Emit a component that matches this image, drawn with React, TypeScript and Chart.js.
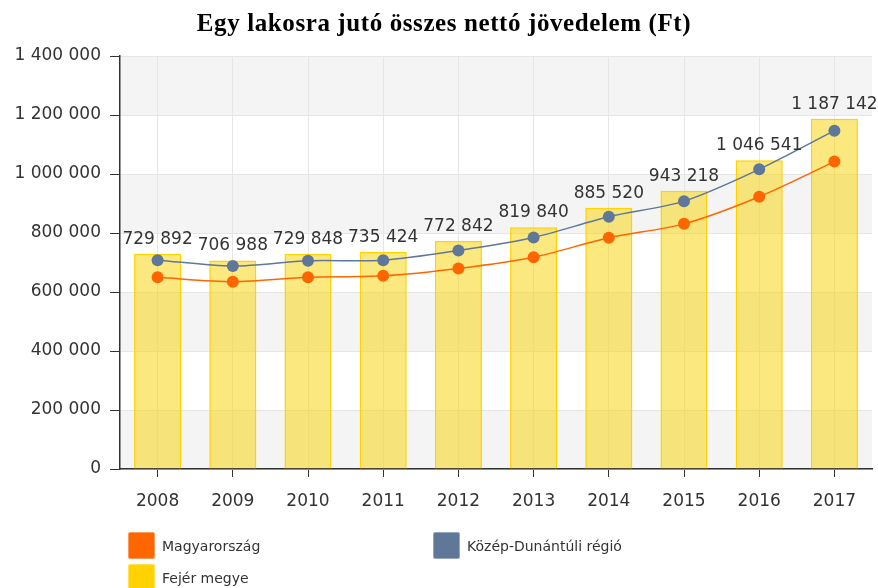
import React, { useEffect, useRef } from "react";
import { Chart, registerables } from "chart.js";

Chart.register(...registerables);

const titleText = "Egy lakosra jutó összes nettó jövedelem (Ft)";
const years = ["2008", "2009", "2010", "2011", "2012", "2013", "2014", "2015", "2016", "2017"];
const fejerValues = [729892, 706988, 729848, 735424, 772842, 819840, 885520, 943218, 1046541, 1187142];
const regioValues = [708000, 688000, 706000, 708000, 741000, 785000, 855000, 908000, 1016000, 1147000];
const hungaryValues = [650000, 635000, 650000, 655000, 680000, 718000, 784000, 831000, 923000, 1042000];
const seriesNames = ["Magyarország", "Közép-Dunántúli régió", "Fejér megye"];
const seriesColors = ["#FF6600", "#5F7799", "#FFD200"];
const yMin = 0;
const yMax = 1400000;
const yStep = 200000;

const fmt = (v: number) => String(Math.round(v)).replace(/\B(?=(\d{3})+(?!\d))/g, " ");

const FONT = '"DejaVu Sans", Verdana, sans-serif';

const bandsPlugin = {
  id: "bands",
  beforeDraw(chart: any) {
    const { ctx, chartArea, scales } = chart;
    const y = scales.y;
    ctx.save();
    ctx.fillStyle = "#f4f4f4";
    const ticks = y.ticks;
    for (let i = 0; i < ticks.length - 1; i += 2) {
      const y0 = y.getPixelForValue(ticks[i].value);
      const y1 = y.getPixelForValue(ticks[i + 1].value);
      ctx.fillRect(chartArea.left, y1, chartArea.right - chartArea.left, y0 - y1);
    }
    ctx.restore();
  },
};

const titlePlugin = {
  id: "customTitle",
  afterDraw(chart: any) {
    const { ctx } = chart;
    ctx.save();
    ctx.font = 'bold 25px "Liberation Serif", "Times New Roman", serif';
    (ctx as any).letterSpacing = "0.6px";
    ctx.fillStyle = "#000";
    ctx.textAlign = "center";
    ctx.textBaseline = "alphabetic";
    ctx.fillText(titleText, 444, 31);
    ctx.restore();
  },
};

const barLabelPlugin = {
  id: "barLabels",
  afterDatasetsDraw(chart: any) {
    const { ctx } = chart;
    chart.data.datasets.forEach((ds: any, i: number) => {
      if (ds.type !== "bar") return;
      const meta = chart.getDatasetMeta(i);
      ctx.save();
      ctx.font = "17px " + FONT;
      ctx.fillStyle = "#333";
      ctx.textAlign = "center";
      ctx.textBaseline = "alphabetic";
      meta.data.forEach((el: any, j: number) => {
        ctx.fillText(fmt(ds.data[j]), el.x, el.y - 10);
      });
      ctx.restore();
    });
  },
};

export default function App() {
  const canvasRef = useRef<HTMLCanvasElement | null>(null);

  useEffect(() => {
    document.body.style.margin = "0";
    const canvas = canvasRef.current;
    if (!canvas) return;
    const chart = new Chart(canvas, {
      data: {
        labels: years,
        datasets: [
          {
            type: "line",
            label: seriesNames[0],
            data: hungaryValues,
            borderColor: seriesColors[0],
            backgroundColor: seriesColors[0],
            borderWidth: 1.5,
            pointRadius: 6,
            pointBorderWidth: 0,
            tension: 0.3,
            order: 1,
          },
          {
            type: "line",
            label: seriesNames[1],
            data: regioValues,
            borderColor: seriesColors[1],
            backgroundColor: seriesColors[1],
            borderWidth: 1.5,
            pointRadius: 6,
            pointBorderWidth: 0,
            tension: 0.3,
            order: 0,
          },
          {
            type: "bar",
            label: seriesNames[2],
            data: fejerValues,
            backgroundColor: "rgba(248, 210, 0, 0.5)",
            borderColor: "#FFD200",
            borderWidth: 1.5,
            barPercentage: 1,
            categoryPercentage: 0.626,
            order: 2,
          },
        ],
      } as any,
      options: {
        responsive: false,
        animation: false,
        events: [],
        layout: { padding: { left: 0, right: 6, top: 56, bottom: 0 } },
        plugins: {
          legend: { display: false },
          title: { display: false },
          tooltip: { enabled: false },
        },
        scales: {
          x: {
            offset: true,
            grid: {
              offset: false,
              color: "#e6e6e6",
              tickColor: "#333",
              tickLength: 8,
              drawOnChartArea: true,
            },
            border: { color: "#333", width: 1.5 },
            ticks: {
              color: "#333",
              font: { family: FONT, size: 17 },
              padding: 14,
            },
            afterFit(scale: any) {
              scale.height = 119;
            },
          },
          y: {
            min: yMin,
            max: yMax,
            grid: {
              color: "#e6e6e6",
              tickColor: "#333",
              tickLength: 10,
            },
            border: { color: "#333", width: 1.5 },
            ticks: {
              stepSize: yStep,
              color: "#333",
              font: { family: FONT, size: 17 },
              padding: 9,
              callback: (v: any) => fmt(Number(v)),
            },
            afterFit(scale: any) {
              scale.width = 120;
            },
          },
        },
      },
      plugins: [bandsPlugin, titlePlugin, barLabelPlugin],
    });
    return () => chart.destroy();
  }, []);

  const legendItems = [0, 1, 2];
  const legendPos = [
    { left: 128, top: 532 },
    { left: 433, top: 532 },
    { left: 128, top: 564 },
  ];

  return (
    <div style={{ position: "absolute", left: 0, top: 0, width: 878, height: 588 }}>
      <canvas ref={canvasRef} width={878} height={588} style={{ display: "block" }} />
      {legendItems.map((i) => (
        <div
          key={i}
          style={{
            position: "absolute",
            left: legendPos[i].left,
            top: legendPos[i].top,
            display: "flex",
            alignItems: "center",
            height: 27,
          }}
        >
          <span
            style={{
              display: "inline-block",
              width: 27,
              height: 27,
              boxSizing: "border-box",
              background: seriesColors[i],
              borderRadius: 2,
              border: "1px solid rgba(255,255,255,0.35)",
            }}
          />
          <span
            style={{
              marginLeft: 7,
              fontFamily: FONT,
              fontSize: 14,
              color: "#333",
              whiteSpace: "nowrap",
            }}
          >
            {seriesNames[i]}
          </span>
        </div>
      ))}
    </div>
  );
}
